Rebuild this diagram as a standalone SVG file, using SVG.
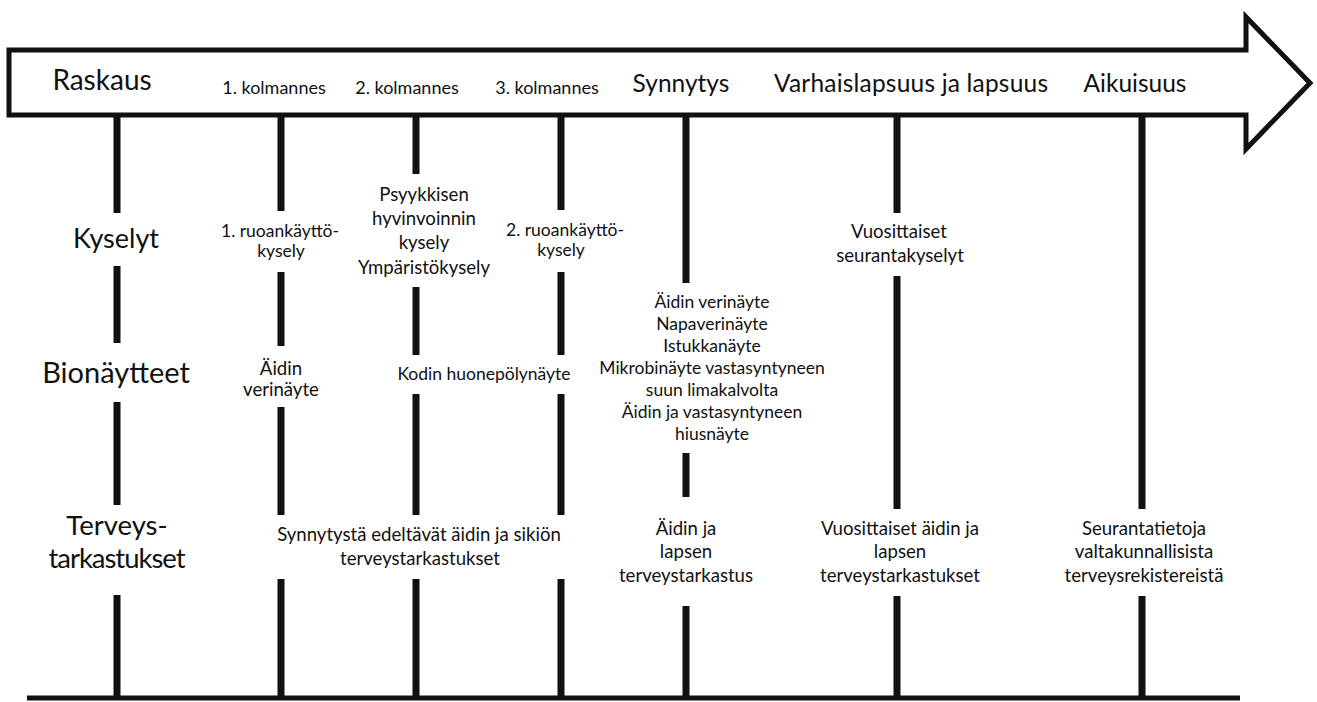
<svg xmlns="http://www.w3.org/2000/svg" width="1317" height="702" viewBox="0 0 1317 702">
<style>
text{font-family:Lato,"Open Sans","Liberation Sans",sans-serif;fill:#111;text-anchor:middle}
.big{font-size:28px}
.mid{font-size:24.5px}
.sm{font-size:18px}
.t{font-size:18.6px}
.s{font-size:17.5px}
.v{stroke:#111;stroke-width:7;fill:none}
</style>
<rect width="1317" height="702" fill="#fff"/>
<g id="timeline-arrow">
<polygon points="9,50 1246,50 1246,17 1310,83 1246,149 1246,115 9,115" fill="#fff" stroke="#111" stroke-width="5" stroke-linejoin="miter"/>
<text class="big" x="102" y="90">Raskaus</text>
<text class="sm" x="274" y="94">1. kolmannes</text>
<text class="sm" x="407" y="94">2. kolmannes</text>
<text class="sm" x="547" y="94">3. kolmannes</text>
<text class="mid" x="681" y="92">Synnytys</text>
<text class="mid" x="911" y="92" textLength="274">Varhaislapsuus ja lapsuus</text>
<text class="mid" x="1135" y="92">Aikuisuus</text>
</g>
<g id="connectors">
<path class="v" d="M117,115V213M117,266V343M117,402V505M117,595V698"/>
<path class="v" d="M281,115V211M281,272V346M281,407V515M281,579V698"/>
<path class="v" d="M416,115V174M416,287V355M416,394V515M416,579V698"/>
<path class="v" d="M561,115V210M561,272V355M561,394V515M561,579V698"/>
<path class="v" d="M686,115V283M686,453V497M686,606V698"/>
<path class="v" d="M897,115V213M897,276V509M897,596V698"/>
<path class="v" d="M1142,115V509M1142,596V698"/>
<path d="M27,698H1240" stroke="#111" stroke-width="5"/>
</g>
<g id="row-labels">
<text class="big" x="116" y="248" style="font-size:27px">Kyselyt</text>
<text class="big" x="116" y="383" style="font-size:29px">Bionäytteet</text>
<text class="big" x="117" y="535" style="font-size:27.5px">Terveys-</text>
<text class="big" x="117" y="568" style="font-size:27.5px" textLength="137">tarkastukset</text>
</g>
<g id="kyselyt">
<text class="s" x="280" y="237">1. ruoankäyttö-</text>
<text class="s" x="281" y="257">kysely</text>
<text class="t" x="424" y="201">Psyykkisen</text>
<text class="t" x="424" y="225">hyvinvoinnin</text>
<text class="t" x="424" y="249">kysely</text>
<text class="t" x="424" y="274">Ympäristökysely</text>
<text class="s" x="565" y="236">2. ruoankäyttö-</text>
<text class="s" x="561" y="256">kysely</text>
<text class="t" x="899" y="238">Vuosittaiset</text>
<text class="t" x="900" y="262">seurantakyselyt</text>
</g>
<g id="bionaytteet">
<text class="t" x="281" y="375">Äidin</text>
<text class="t" x="281" y="396">verinäyte</text>
<text class="s" x="484" y="380">Kodin huonepölynäyte</text>
<text class="s" x="712" y="308">Äidin verinäyte</text>
<text class="s" x="712" y="330">Napaverinäyte</text>
<text class="s" x="712" y="352">Istukkanäyte</text>
<text class="s" x="712" y="374">Mikrobinäyte vastasyntyneen</text>
<text class="s" x="712" y="396">suun limakalvolta</text>
<text class="s" x="712" y="418">Äidin ja vastasyntyneen</text>
<text class="s" x="712" y="440">hiusnäyte</text>
</g>
<g id="terveystarkastukset">
<text class="t" x="419" y="541">Synnytystä edeltävät äidin ja sikiön</text>
<text class="t" x="420" y="565">terveystarkastukset</text>
<text class="t" x="686" y="535">Äidin ja</text>
<text class="t" x="686" y="558">lapsen</text>
<text class="t" x="686" y="582">terveystarkastus</text>
<text class="t" x="900" y="535">Vuosittaiset äidin ja</text>
<text class="t" x="900" y="558">lapsen</text>
<text class="t" x="900" y="582">terveystarkastukset</text>
<text class="t" x="1144" y="535">Seurantatietoja</text>
<text class="t" x="1144" y="558">valtakunnallisista</text>
<text class="t" x="1144" y="582">terveysrekistereistä</text>
</g>
</svg>
